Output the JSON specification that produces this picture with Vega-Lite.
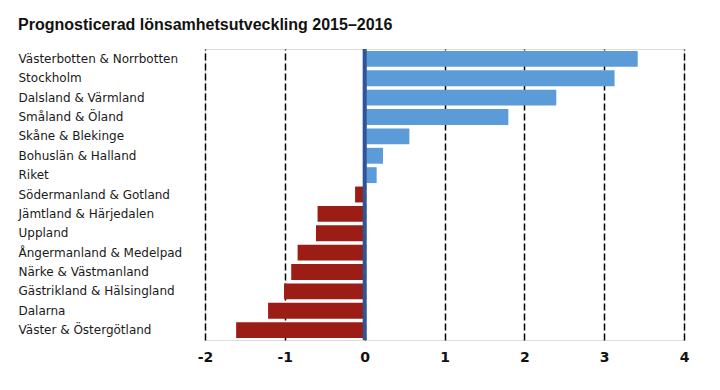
{
  "$schema": "https://vega.github.io/schema/vega-lite/v6.json",
  "autosize": {"type": "none"},
  "width": 479,
  "height": 291,
  "padding": {"left": 205, "top": 49, "right": 36, "bottom": 50},
  "background": "white",
  "title": {
    "text": "Prognosticerad lönsamhetsutveckling 2015–2016",
    "anchor": "start",
    "frame": "bounds",
    "font": "Liberation Sans",
    "fontSize": 16,
    "fontWeight": "bold",
    "color": "#111111",
    "offset": 14
  },
  "data": {
    "values": [
      {"region": "Västerbotten & Norrbotten", "value": 3.42},
      {"region": "Stockholm", "value": 3.13},
      {"region": "Dalsland & Värmland", "value": 2.4},
      {"region": "Småland & Öland", "value": 1.8},
      {"region": "Skåne & Blekinge", "value": 0.56},
      {"region": "Bohuslän & Halland", "value": 0.23},
      {"region": "Riket", "value": 0.15},
      {"region": "Södermanland & Gotland", "value": -0.12},
      {"region": "Jämtland & Härjedalen", "value": -0.59},
      {"region": "Uppland", "value": -0.61},
      {"region": "Ångermanland & Medelpad", "value": -0.84},
      {"region": "Närke & Västmanland", "value": -0.92},
      {"region": "Gästrikland & Hälsingland", "value": -1.01},
      {"region": "Dalarna", "value": -1.21},
      {"region": "Väster & Östergötland", "value": -1.61}
    ]
  },
  "layer": [
    {
      "mark": {"type": "bar"},
      "encoding": {
        "y": {
          "field": "region",
          "type": "nominal",
          "sort": null,
          "title": null,
          "scale": {"paddingInner": 0.18, "paddingOuter": 0.1},
          "axis": {
            "ticks": false,
            "domain": false,
            "labelAlign": "left",
            "labelPadding": 187,
            "labelFont": "DejaVu Sans",
            "labelFontSize": 12,
            "labelColor": "#1a1a1a",
            "labelLimit": 200
          }
        },
        "x": {
          "field": "value",
          "type": "quantitative",
          "title": null,
          "scale": {"domain": [-2, 4], "nice": false},
          "axis": {
            "values": [-2, -1, 0, 1, 2, 3, 4],
            "labelExpr": "'' + datum.value",
            "labelFlush": false,
            "ticks": false,
            "domain": false,
            "grid": true,
            "gridColor": "#000000",
            "gridDash": [7, 3],
            "gridWidth": 1.5,
            "labelFont": "DejaVu Sans",
            "labelFontSize": 14,
            "labelFontWeight": "bold",
            "labelColor": "#111111",
            "labelPadding": 10
          }
        },
        "color": {
          "condition": {"test": "datum.value < 0", "value": "#9C1C16"},
          "value": "#5B9BD8"
        }
      }
    },
    {
      "data": {"values": [{"zero": 0}]},
      "mark": {"type": "rule", "color": "#2F5597", "strokeWidth": 4},
      "encoding": {
        "x": {"field": "zero", "type": "quantitative"}
      }
    }
  ]
}
